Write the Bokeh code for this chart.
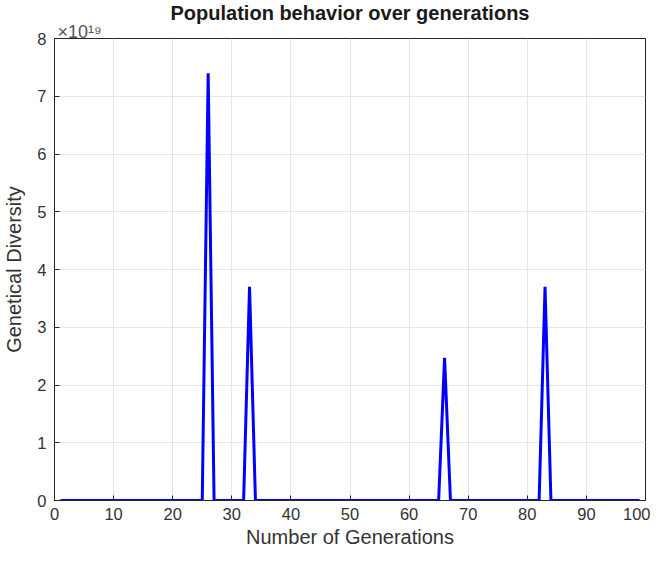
from bokeh.plotting import figure
from bokeh.models import Range1d, FixedTicker, CustomJSTickFormatter, Title
from bokeh.embed import file_html
from bokeh.resources import INLINE

# Data (generation, genetical diversity)
generations = [1, 25, 26, 27, 32, 33, 34, 65, 66, 67, 82, 83, 84, 99]
diversity = [0, 0, 7.40e19, 0, 0, 3.70e19, 0, 0, 2.47e19, 0, 0, 3.70e19, 0, 0]

x_ticks = [0, 10, 20, 30, 40, 50, 60, 70, 80, 90, 100]
y_ticks = [0, 1e19, 2e19, 3e19, 4e19, 5e19, 6e19, 7e19, 8e19]

title_text = "Population behavior over generations"
exponent_text = "\u00d710\u00b9\u2079"

FONT = "Liberation Sans"
AX = "#262626"

p = figure(width=650, height=550, output_backend="svg", toolbar_location=None,
           x_range=Range1d(0, 100), y_range=Range1d(0, 8e19), title=None,
           min_border_left=40, min_border_right=5, min_border_top=4, min_border_bottom=4)

p.line(generations, diversity, line_color="#0000ff", line_width=3)

# exponent (inner), then main title (outer)
p.add_layout(Title(text=exponent_text, align="left", offset=3, standoff=-6,
                   text_font=FONT, text_font_size="18px", text_font_style="normal",
                   text_color="#555555"), "above")
p.add_layout(Title(text=title_text, align="center", standoff=-2,
                   text_font=FONT, text_font_size="20px", text_font_style="bold",
                   text_color="#1a1a1a"), "above")

p.xaxis.ticker = FixedTicker(ticks=x_ticks)
p.yaxis.ticker = FixedTicker(ticks=y_ticks)
p.yaxis.formatter = CustomJSTickFormatter(code="return (tick/1e19).toFixed(0);")

for ax in (p.xaxis[0], p.yaxis[0]):
    ax.axis_line_color = AX
    ax.major_tick_line_color = AX
    ax.major_tick_in = 5
    ax.major_tick_out = 0
    ax.minor_tick_line_color = None
    ax.major_label_text_font = FONT
    ax.major_label_text_font_size = "16.5px"
    ax.major_label_text_color = "#333333"
    ax.axis_label_text_font = FONT
    ax.axis_label_text_font_size = "20px"
    ax.axis_label_text_font_style = "normal"
    ax.axis_label_text_color = "#333333"

p.xaxis.major_label_standoff = 7
p.yaxis.major_label_standoff = 8
p.xaxis.axis_label = "Number of Generations"
p.yaxis.axis_label = "Genetical Diversity"
p.xaxis.axis_label_standoff = 3
p.yaxis.axis_label_standoff = 9

p.outline_line_color = AX
p.outline_line_alpha = 1
p.xgrid.grid_line_color = "#e6e6e6"
p.ygrid.grid_line_color = "#e6e6e6"
p.background_fill_color = "white"
p.border_fill_color = "white"

open("out.html", "w").write(file_html(p, INLINE))
